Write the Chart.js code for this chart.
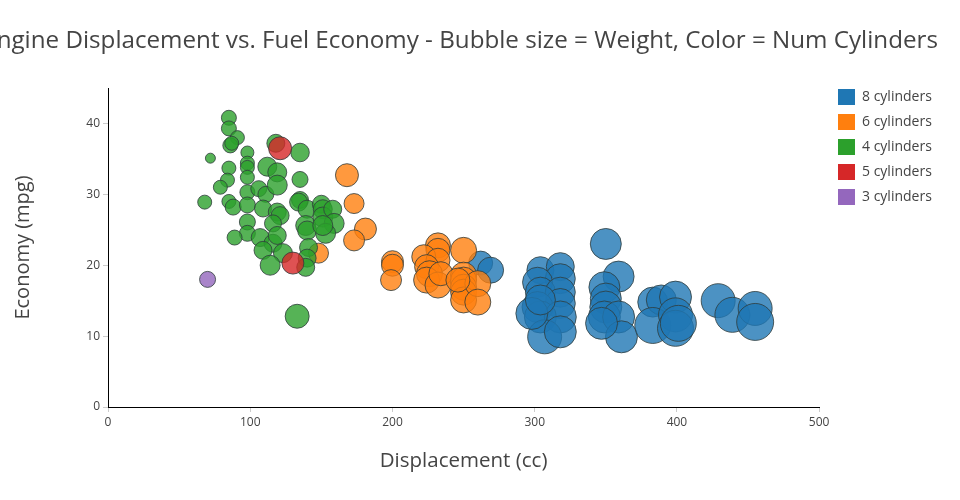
<!DOCTYPE html>
<html>
<head>
<meta charset="utf-8">
<script src="https://cdn.jsdelivr.net/npm/chart.js@4.4.1/dist/chart.umd.min.js"></script>
<style>
  html, body { margin: 0; padding: 0; background: #fff; }
  #wrap { width: 960px; height: 500px; }
</style>
</head>
<body>
<div id="wrap"><canvas id="cars" width="960" height="500"></canvas></div>
<script>
// 배기량(cc) / 연비(mpg) / 중량(lbs) — 그림에서 읽은 값
const TITLE = "Engine Displacement vs. Fuel Economy - Bubble size = Weight, Color = Num Cylinders";

const groupLabels = ["8 cylinders", "6 cylinders", "4 cylinders", "5 cylinders", "3 cylinders"];
const groupColors = ["#1f77b4", "#ff7f0e", "#2ca02c", "#d62728", "#9467bd"];

const disp8 = [262,269,304,318,318,302,304,318,318,302,304,318,307,318,298,304,350,359,349,350,350,349,359,361,347,383,389,383,399,399,399,401,429,439,455,455];
const mpg8  = [20.3,19.3,19.3,19.8,18.1,17.6,16.2,16.2,14.6,14.1,12.7,12.7,9.9,10.6,13.2,15.1,23.0,18.4,16.9,15.3,14.1,12.7,12.7,9.9,11.8,14.8,15.1,11.5,15.5,13.0,11.1,11.8,15.0,13.0,13.9,12.0];
const wt8   = [3350,3600,3725,3850,4100,4100,4100,4100,4100,4225,4350,4350,4600,4350,4350,4100,4225,4225,4225,4225,4350,4350,4350,4350,4350,4100,4100,4850,4350,4600,4850,4850,4600,4725,4600,4975];

const disp6 = [168,173,181,173,148,200,200,199,232,232,222,232,224,226,224,232,234,250,250,250,250,250,250,260,260,246];
const mpg6  = [32.7,28.7,25.1,23.5,21.7,20.5,20.0,17.9,22.8,22.1,21.2,20.7,19.8,18.8,17.9,17.2,18.8,22.1,18.6,17.9,16.9,16.2,15.1,17.4,14.8,17.9];
const wt6   = [3225,2850,3100,2975,2850,3100,3100,2975,3475,3350,3350,3350,3350,3600,3600,3600,3350,3600,3600,3600,3600,3600,3600,3600,3600,3350];

const disp4 = [85,85,91,86,87,72,98,118,135,98,98,112,119,85,84,79,98,98,106,111,119,135,135,68,85,88,98,109,119,121,134,140,139,150,151,151,158,159,98,98,89,107,116,116,119,109,123,114,140,141,140,139,153,151,133];
const mpg4  = [40.8,39.3,38.0,36.9,37.2,35.1,35.9,37.2,35.9,34.4,33.8,33.9,33.1,33.7,32.0,31.0,32.4,30.3,30.8,30.0,31.3,32.1,29.2,28.9,29.0,28.2,28.5,28.0,27.5,27.0,28.9,27.9,25.6,28.6,27.9,26.8,27.9,25.9,26.1,24.5,23.9,23.9,25.9,23.1,24.2,22.1,21.7,20.0,24.9,22.5,21.0,19.7,24.5,25.6,12.8];
const wt4   = [2225,2225,2100,2225,2100,1600,1975,2600,2675,2100,2100,2725,2725,2100,2100,2100,2100,2225,2350,2350,2850,2350,2475,2100,2100,2350,2350,2475,2600,2600,2600,2600,2850,2600,2725,2850,2600,2850,2350,2350,2225,2600,2475,2600,2600,2600,2725,2850,2725,2600,2600,2600,2850,2850,3350];

const disp5 = [121,130];
const mpg5  = [36.5,20.3];
const wt5   = [3225,3100];

const disp3 = [70];
const mpg3  = [18.0];
const wt3   = [2350];

const xTicks = [0,100,200,300,400,500];
const yTicks = [0,10,20,30,40];

// 중량 -> 버블 반지름(px)
const bubbleR = w => (w - 350) / 250;
const toPoints = (d, m, w) => d.map((x, i) => ({x, y: m[i], r: bubbleR(w[i])}));
const fade = (hex, a) => {
  const n = parseInt(hex.slice(1), 16);
  return `rgba(${n>>16},${(n>>8)&255},${n&255},${a})`;
};

const groups = [[disp8,mpg8,wt8],[disp6,mpg6,wt6],[disp4,mpg4,wt4],[disp5,mpg5,wt5],[disp3,mpg3,wt3]];

const datasets = groups.map((g, i) => ({
  label: groupLabels[i],
  data: toPoints(g[0], g[1], g[2]),
  backgroundColor: fade(groupColors[i], 0.8),
  borderColor: "rgba(47,60,60,0.8)",
  borderWidth: 1,
  order: groups.length - i,
}));

const FONT = "'Open Sans', sans-serif";

const layoutFix = {
  id: "layoutFix",
  afterLayout(chart){
    // 범례를 플롯 영역 오른쪽 위로
    const lg = chart.legend;
    const w = lg.width, h = lg.height;
    lg.left = 829; lg.right = lg.left + w;
    lg.top = 80; lg.bottom = lg.top + h;
  },
  afterDraw(chart){
    const {ctx, chartArea} = chart;
    ctx.save();
    ctx.font = "24.2px " + FONT;
    ctx.fillStyle = "#444";
    ctx.textAlign = "center";
    ctx.textBaseline = "middle";
    ctx.fillText(TITLE, (chartArea.left + chartArea.right) / 2 - 3, 41);
    ctx.restore();
  }
};

new Chart(document.getElementById("cars"), {
  type: "bubble",
  data: { datasets },
  plugins: [layoutFix],
  options: {
    responsive: false,
    animation: false,
    layout: { autoPadding: false, padding: { top: 88, right: 28, bottom: 0, left: 0 } },
    plugins: {
      title: { display: false },
      tooltip: { enabled: false },
      legend: {
        position: "right",
        align: "start",
        labels: {
          boxWidth: 17, boxHeight: 16, padding: 9, color: "#444",
          font: { family: FONT, size: 14 },
          generateLabels: chart => chart.data.datasets.map((ds, i) => ({
            text: ds.label, fillStyle: groupColors[i], strokeStyle: groupColors[i],
            lineWidth: 0, hidden: false, datasetIndex: i, fontColor: "#444"
          }))
        }
      }
    },
    scales: {
      x: {
        type: "linear", min: 0, max: 500,
        afterFit: s => { s.height = 93; },
        afterBuildTicks: s => { s.ticks = xTicks.map(v => ({value: v})); },
        grid: { display: true, drawOnChartArea: false, drawTicks: true, tickLength: 5, color: "#ccc" },
        border: { display: true, color: "#000", width: 1 },
        ticks: { color: "#444", padding: 3, font: { family: FONT, size: 12 } },
        title: { display: true, text: "Displacement (cc)", color: "#444", padding: 27, font: { family: FONT, size: 20.5 } }
      },
      y: {
        type: "linear", min: 0, max: 45,
        afterFit: s => { s.width = 108; },
        afterBuildTicks: s => { s.ticks = yTicks.map(v => ({value: v})); },
        grid: { display: true, drawOnChartArea: false, drawTicks: true, tickLength: 5, color: "#ccc" },
        border: { display: true, color: "#000", width: 1 },
        ticks: { color: "#444", padding: 3, font: { family: FONT, size: 12 } },
        title: { display: true, text: "Economy (mpg)", color: "#444", padding: 11, font: { family: FONT, size: 20 } }
      }
    }
  }
});
</script>
</body>
</html>
